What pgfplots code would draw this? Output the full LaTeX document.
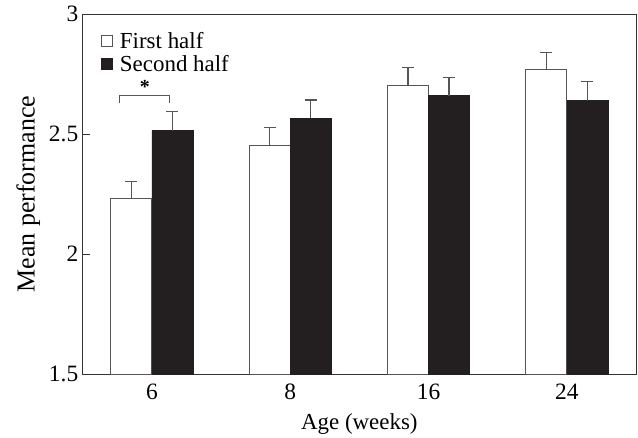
\documentclass[border=0pt]{standalone}
\usepackage{fontspec}
\setmainfont{Liberation Serif}
\usepackage{pgfplots}
\pgfplotsset{compat=1.18}
\definecolor{barblack}{HTML}{231F20}
\definecolor{framegray}{HTML}{333333}
\definecolor{edgegray}{HTML}{555555}
\begin{document}
\begin{tikzpicture}
\begin{axis}[
  scale only axis,
  width=553bp, height=360bp,
  xmin=-0.5, xmax=3.5,
  ymin=1.5, ymax=3,
  ybar=0pt,
  bar width=41bp,
  axis line style={framegray, line width=0.9pt},
  xtick={0,1,2,3},
  xticklabels={6,8,16,24},
  major x tick style={draw=none},
  extra x ticks={0.5,1.5,2.5},
  extra x tick labels={},
  extra x tick style={major tick length=7bp, tick style={framegray, line width=0.9pt}},
  ytick={1.5,2,2.5,3},
  ytick pos=left,
  xtick pos=bottom,
  tick align=inside,
  major tick length=7bp,
  tick style={framegray, line width=0.9pt},
  /pgf/number format/assume math mode=true,
  tick label style={font=\fontsize{23.5}{27}\selectfont},
  xticklabel style={yshift=-6bp},
  yticklabel style={xshift=-1bp},
  xlabel={Age (weeks)},
  ylabel={Mean performance},
  xlabel style={font=\fontsize{23}{27}\selectfont, yshift=-7bp},
  ylabel style={font=\fontsize{26}{30}\selectfont, yshift=2bp},
  legend style={at={(0.033,0.955)}, anchor=north west, draw=none, fill=none,
    font=\fontsize{23}{26}\selectfont, row sep=1bp, inner sep=0bp,
    /tikz/every odd column/.append style={column sep=5bp}},
  legend cell align=left,
  legend image code/.code={\draw[#1, line width=0.8pt] (0bp,-5.5bp) rectangle (11bp,5.5bp);},
  error bars/y dir=plus,
  error bars/y explicit,
  error bars/error bar style={edgegray, line width=1.1pt},
  error bars/error mark options={edgegray, line width=1.1pt, mark size=6bp, rotate=90},
]
\addplot[draw=edgegray, fill=white, line width=1pt] coordinates {
  (0,2.233) +- (0,0.071)
  (1,2.451) +- (0,0.075)
  (2,2.704) +- (0,0.072)
  (3,2.770) +- (0,0.069)
};
\addlegendentry{First half}
\addplot[draw=barblack, fill=barblack, line width=0.5pt] coordinates {
  (0,2.514) +- (0,0.079)
  (1,2.565) +- (0,0.077)
  (2,2.660) +- (0,0.075)
  (3,2.639) +- (0,0.078)
};
\addlegendentry{Second half}
\draw[edgegray, line width=1pt] (axis cs:-0.232,2.629) -- (axis cs:-0.232,2.6625) -- (axis cs:0.13,2.6625) -- (axis cs:0.13,2.629);
\node[font=\fontsize{20}{24}\selectfont\bfseries, anchor=south, inner sep=1bp] at (axis cs:-0.05,2.665) {*};
\end{axis}
\path[use as bounding box] ([xshift=-82.7bp,yshift=-63bp]current axis.south west) rectangle ([xshift=2bp,yshift=14bp]current axis.north east);
\end{tikzpicture}
\end{document}
